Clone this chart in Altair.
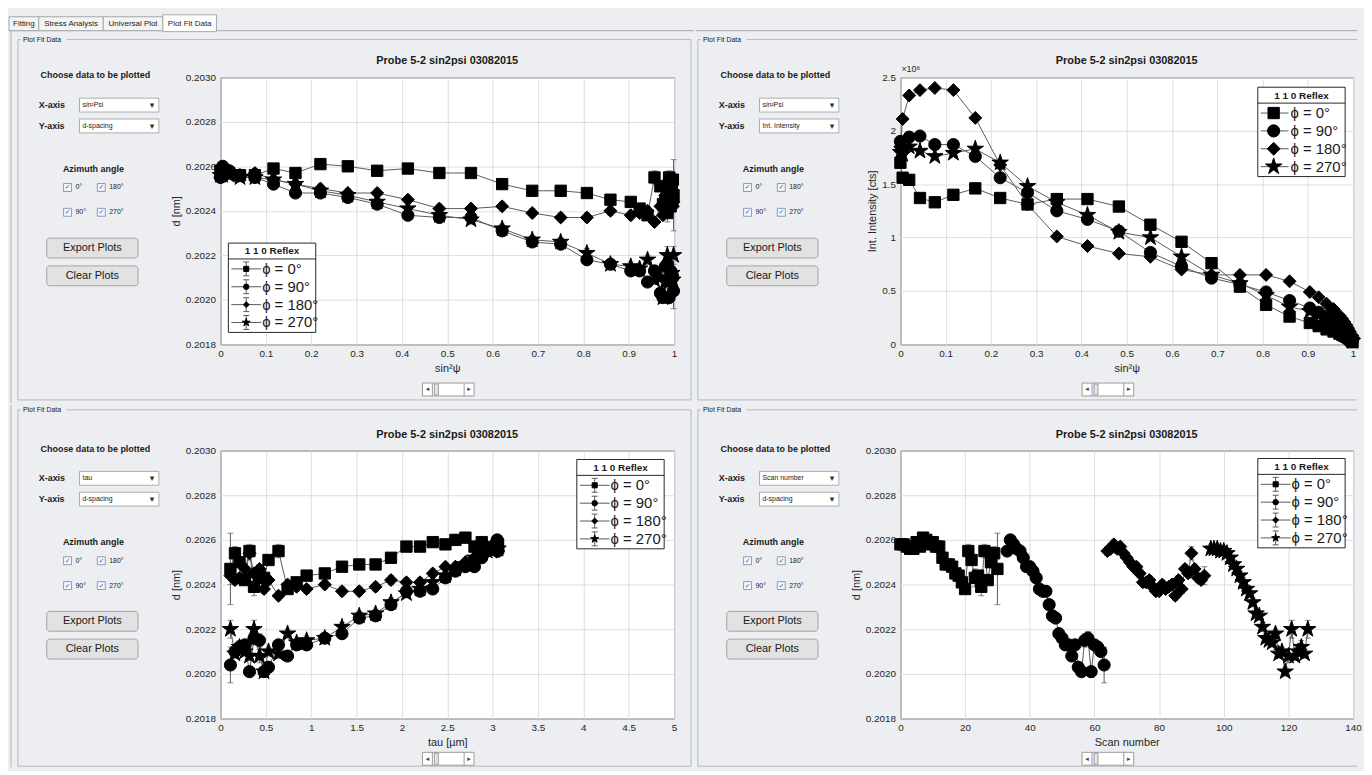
import altair as alt
import pandas as pd

FONT = "Liberation Sans"
SYMF = "DejaVu Sans"
BG = "#eceef1"
INK = "#1a1a1a"
LINE = "#5a5a5a"
FRAME = "#b5b8bd"
STAR = ("M0,-1L0.2245,-0.309L0.9511,-0.309L0.3633,0.118L0.5878,0.809L0,0.382"
        "L-0.5878,0.809L-0.3633,0.118L-0.9511,-0.309L-0.2245,-0.309Z")

# ---------------- data ----------------
series_labels = ["ϕ = 0°", "ϕ = 90°", "ϕ = 180°", "ϕ = 270°"]
series_shapes = ["square", "circle", "diamond", STAR]
legend_title = "1 1 0 Reflex"
panel_title = "Probe 5-2 sin2psi 03082015"
tab_names = ["Fitting", "Stress Analysis", "Universal Plot", "Plot Fit Data"]
frame_label = "Plot Fit Data"
azimuth_options = ["0°", "180°", "90°", "270°"]
button_labels = ["Export Plots", "Clear Plots"]

sin2psi = [0.0000, 0.0049, 0.0194, 0.0432, 0.0760, 0.1170, 0.1654, 0.2204, 0.2808, 0.3455,
           0.4132, 0.4826, 0.5523, 0.6210, 0.6873, 0.7500, 0.8078, 0.8597, 0.9045, 0.9240,
           0.9415, 0.9568, 0.9698, 0.9755, 0.9806, 0.9851, 0.9891, 0.9924, 0.9951, 0.9973, 0.9988]
tau_um = [3.06, 3.05, 3.03, 2.99, 2.94, 2.88, 2.80, 2.70, 2.59, 2.48, 2.34, 2.20, 2.05, 1.88,
          1.71, 1.53, 1.34, 1.15, 0.95, 0.84, 0.74, 0.64, 0.53, 0.48, 0.43, 0.37, 0.32, 0.27,
          0.21, 0.16, 0.11]
scan_start = [0, 33, 64, 96]

d_phi0 = [0.20258, 0.20258, 0.20257, 0.20256, 0.20256, 0.20259, 0.20257, 0.20261, 0.20260, 0.20258,
          0.20259, 0.20257, 0.20257, 0.20252, 0.20249, 0.20249, 0.20248, 0.20245, 0.20244, 0.20241,
          0.20238, 0.20255, 0.20251, 0.20243, 0.20244, 0.20239, 0.20255, 0.20242, 0.20250, 0.20254, 0.20247]
d_phi90 = [0.20255, 0.20260, 0.20258, 0.20256, 0.20255, 0.20252, 0.20248, 0.20248, 0.20246, 0.20243,
           0.20238, 0.20237, 0.20237, 0.20231, 0.20226, 0.20225, 0.20218, 0.20216, 0.20213, 0.20213,
           0.20208, 0.20213, 0.20203, 0.20201, 0.20215, 0.20216, 0.20201, 0.20213, 0.20212, 0.20210, 0.20204]
d_phi180 = [0.20255, 0.20256, 0.20258, 0.20256, 0.20257, 0.20254, 0.20252, 0.20250, 0.20248, 0.20248,
            0.20245, 0.20241, 0.20241, 0.20242, 0.20239, 0.20237, 0.20237, 0.20240, 0.20238, 0.20239,
            0.20240, 0.20235, 0.20242, 0.20238, 0.20247, 0.20245, 0.20254, 0.20247, 0.20243, 0.20242, 0.20244]
d_phi270 = [0.20256, 0.20256, 0.20256, 0.20255, 0.20255, 0.20254, 0.20252, 0.20249, 0.20247, 0.20244,
            0.20241, 0.20238, 0.20236, 0.20232, 0.20227, 0.20226, 0.20221, 0.20216, 0.20215, 0.20214,
            0.20218, 0.20209, 0.20210, 0.20201, 0.20208, 0.20220, 0.20208, 0.20210, 0.20212, 0.20209, 0.20220]

err_phi0 = [0.00002] * 21 + [0.00003, 0.00002, 0.00004, 0.00002, 0.00004, 0.00003, 0.00002, 0.00002, 0.00003, 0.00016]
err_phi90 = [0.00002] * 24 + [0.00003, 0.00003, 0.00002, 0.00002, 0.00002, 0.00002, 0.00008]
err_phi180 = [0.00002] * 26 + [0.00003, 0.00002, 0.00002, 0.00002, 0.00004]
err_phi270 = [0.00002] * 24 + [0.00003, 0.00004, 0.00002, 0.00002, 0.00003, 0.00002, 0.00004]

int_phi0 = [1.70, 1.56, 1.54, 1.37, 1.33, 1.40, 1.46, 1.37, 1.31, 1.36, 1.36, 1.29, 1.12, 0.96, 0.76,
            0.54, 0.37, 0.26, 0.20, 0.17, 0.14, 0.12, 0.10, 0.09, 0.08, 0.07, 0.06, 0.05, 0.04, 0.03, 0.02]
int_phi90 = [1.90, 1.81, 1.94, 1.95, 1.87, 1.87, 1.76, 1.56, 1.42, 1.25, 1.17, 1.06, 0.86, 0.73, 0.62,
             0.56, 0.49, 0.41, 0.34, 0.30, 0.26, 0.22, 0.18, 0.16, 0.14, 0.12, 0.10, 0.08, 0.07, 0.05, 0.04]
int_phi180 = [1.85, 2.11, 2.33, 2.38, 2.40, 2.38, 2.12, 1.68, 1.31, 1.01, 0.92, 0.85, 0.82, 0.70, 0.65,
              0.65, 0.65, 0.59, 0.49, 0.44, 0.38, 0.33, 0.27, 0.24, 0.21, 0.18, 0.15, 0.12, 0.09, 0.07, 0.05]
int_phi270 = [1.80, 1.78, 1.85, 1.81, 1.76, 1.79, 1.83, 1.70, 1.48, 1.33, 1.21, 1.05, 1.00, 0.82, 0.65,
              0.57, 0.46, 0.35, 0.31, 0.27, 0.23, 0.20, 0.17, 0.15, 0.13, 0.11, 0.09, 0.07, 0.06, 0.04, 0.03]

ticks_unit = [0, 0.1, 0.2, 0.3, 0.4, 0.5, 0.6, 0.7, 0.8, 0.9, 1.0]
ticks_d = [0.2018, 0.2020, 0.2022, 0.2024, 0.2026, 0.2028, 0.2030]
ticks_int = [0, 0.5, 1, 1.5, 2, 2.5]
ticks_tau = [0, 0.5, 1, 1.5, 2, 2.5, 3, 3.5, 4, 4.5, 5]
ticks_scan = [0, 20, 40, 60, 80, 100, 120, 140]

d_all = [d_phi0, d_phi90, d_phi180, d_phi270]
err_all = [err_phi0, err_phi90, err_phi180, err_phi270]
int_all = [int_phi0, int_phi90, int_phi180, int_phi270]
scan_all = [[s + i for i in range(len(d_all[k]))] for k, s in enumerate(scan_start)]


def make_df(xs, ys, errs=None):
    rows = []
    for k, lab in enumerate(series_labels):
        for i, (xv, yv) in enumerate(zip(xs[k], ys[k])):
            e = errs[k][i] if errs else 0.0
            rows.append({"series": lab, "s": k, "i": i, "x": xv, "y": yv, "lo": yv - e, "hi": yv + e})
    return pd.DataFrame(rows)


ONE = pd.DataFrame({"k": [0]})
PLOT_SIZES = [130, 150, 170, 300]
LEG_SMALL = [26, 30, 36, 70]


def vtext(s, x, y, size=9, bold=False, align="left", color=INK, font=FONT):
    return alt.Chart(ONE).mark_text(
        text=s, align=align, baseline="middle", fontSize=size,
        fontWeight="bold" if bold else "normal", color=color, font=font
    ).encode(x=alt.value(x), y=alt.value(y))


def vrect(x1, y1, x2, y2, fill, stroke=None, sw=1, radius=0, opacity=1):
    kw = dict(fill=fill, strokeWidth=sw, cornerRadius=radius, opacity=opacity)
    if stroke:
        kw["stroke"] = stroke
    return alt.Chart(ONE).mark_rect(**kw).encode(
        x=alt.value(x1), x2=alt.value(x2), y=alt.value(y1), y2=alt.value(y2))


def vline(x1, y1, x2, y2, color, sw=1):
    return alt.Chart(ONE).mark_rule(color=color, strokeWidth=sw).encode(
        x=alt.value(x1), x2=alt.value(x2), y=alt.value(y1), y2=alt.value(y2))


def vpoint(x, y, shape, size):
    return alt.Chart(ONE).mark_point(
        shape=shape, size=size, filled=True, fill="black", stroke="black",
        strokeWidth=1, opacity=1
    ).encode(x=alt.value(x), y=alt.value(y))


def legend_layers(x0, y0, big):
    out = [vrect(x0, y0, x0 + 88, y0 + 90, fill="white", stroke="#262626"),
           vline(x0, y0 + 16, x0 + 88, y0 + 16, "#262626"),
           vtext(legend_title, x0 + 44, y0 + 8.5, 10, bold=True, align="center")]
    for k, (lab, shp) in enumerate(zip(series_labels, series_shapes)):
        yy = y0 + 26 + 18 * k
        if big:
            out.append(vline(x0 + 3, yy, x0 + 31, yy, LINE))
            out.append(vpoint(x0 + 16, yy, shp, PLOT_SIZES[k]))
            out.append(vtext(lab, x0 + 33, yy, 15))
        else:
            out.append(vline(x0 + 3, yy, x0 + 33, yy, LINE))
            out.append(vline(x0 + 18, yy - 7, x0 + 18, yy + 7, LINE))
            out.append(vline(x0 + 15, yy - 7, x0 + 21, yy - 7, LINE))
            out.append(vline(x0 + 15, yy + 7, x0 + 21, yy + 7, LINE))
            out.append(vpoint(x0 + 18, yy, shp, LEG_SMALL[k]))
            out.append(vtext(lab, x0 + 34, yy, 15))
    return out


def deco_layers(W, H, row, col, xsel, ysel):
    T, B = (66, 59) if row == 0 else (46, 49)
    Lm, R = (213, 20) if col == 0 else (206, 4)
    out = [vrect(-Lm, -T, W + R, H + B, fill="#000000", opacity=0)]
    if row == 0:
        out.append(vline(-Lm, -47, W + R, -47, "#a6a8ab"))
        if col == 0:
            tx = [(-213, -183), (-183, -118), (-118, -58), (-58, -4)]
            for k, (name, (a, b)) in enumerate(zip(tab_names, tx)):
                if k == 3:
                    out.append(vrect(a, -63, b, -46, fill="white", stroke="#a6a8ab"))
                else:
                    out.append(vrect(a, -61, b, -47, fill="#f4f4f4", stroke="#a6a8ab"))
                out.append(vtext(name, (a + b) / 2, -54, 8, align="center"))
    if col == 0:
        out.append(vline(-211, -47 if row == 0 else -T, -211, H + B, "#b0b3b8"))
    ft = -38 if row == 0 else -41
    fb = H + 56 if row == 0 else H + 48
    fl = -204
    fr = W + 17 if col == 0 else W + R
    out.append(vline(fl, ft, fr, ft, FRAME))
    out.append(vline(fl, ft, fl, fb, FRAME))
    out.append(vline(fl, fb, fr, fb, FRAME))
    if col == 0:
        out.append(vline(fr, ft, fr, fb, FRAME))
    out.append(vrect(-201, ft - 5, -155, ft + 5, fill=BG))
    out.append(vtext(frame_label, -199, ft, 7))
    out.append(vtext("Choose data to be plotted", -126, -2, 9, bold=True, align="center"))
    out.append(vtext("X-axis", -183, 28, 9, bold=True))
    out.append(vtext("Y-axis", -183, 49, 9, bold=True))
    for (y1, y2, s) in [(21, 35, xsel), (42, 56, ysel)]:
        out.append(vrect(-142, y1, -62, y2, fill="white", stroke="#acacac"))
        out.append(vtext(s, -139, (y1 + y2) / 2, 7))
        out.append(vtext("▾", -69, (y1 + y2) / 2, 9, align="center", color="#333", font=SYMF))
    out.append(vtext("Azimuth angle", -128, 92, 9, bold=True, align="center"))
    cpos = [(-158, 111), (-124, 111), (-158, 136), (-124, 136)]
    for lab, (cx, cy) in zip(azimuth_options, cpos):
        out.append(vrect(cx, cy - 4, cx + 8, cy + 4, fill="#f2f5fa", stroke="#8d9bb3"))
        out.append(vtext("✓", cx + 4, cy, 7, align="center", color="#2b62b8", font=SYMF))
        out.append(vtext(lab, cx + 12, cy, 7))
    for lab, (y1, y2) in zip(button_labels, [(162, 182), (190, 210)]):
        out.append(vrect(-175, y1, -83, y2, fill="#e2e2e2", stroke="#a3a3a3", radius=3))
        out.append(vtext(lab, -129, (y1 + y2) / 2, 11, align="center"))
    wx = W / 2 - 25 if col == 0 else W / 2 - 45
    wy = H + 39 if row == 0 else H + 34
    out.append(vrect(wx, wy, wx + 52, wy + 13, fill="white", stroke="#9a9a9a"))
    out.append(vline(wx + 10, wy, wx + 10, wy + 13, "#9a9a9a"))
    out.append(vline(wx + 42, wy, wx + 42, wy + 13, "#9a9a9a"))
    out.append(vrect(wx + 12, wy + 1, wx + 16, wy + 12, fill="#e6e6e6", stroke="#9a9a9a"))
    out.append(vtext("◂", wx + 5, wy + 6.5, 7, align="center", color="#444", font=SYMF))
    out.append(vtext("▸", wx + 47, wy + 6.5, 7, align="center", color="#444", font=SYMF))
    out.append(vtext(panel_title, W / 2, -16, 11, bold=True, align="center"))
    return out


def panel(df, W, H, row, col, xdom, xvals, xfmt, xtitle, ydom, yvals, yfmt, ytitle,
          errorbars, legend_xy, legend_big, xsel, ysel, exponent=False):
    xaxis = alt.Axis(values=xvals, format=xfmt, title=xtitle, labelPadding=4, titlePadding=4)
    yaxis = alt.Axis(values=yvals, format=yfmt, title=ytitle, labelPadding=5, titlePadding=4)
    xs = alt.Scale(domain=xdom, nice=False, zero=False)
    ys = alt.Scale(domain=ydom, nice=False, zero=False)
    X = alt.X("x:Q", scale=xs, axis=xaxis)
    Y = alt.Y("y:Q", scale=ys, axis=yaxis)
    base = alt.Chart(df)
    layers = deco_layers(W, H, row, col, xsel, ysel)
    layers.append(base.mark_line(color=LINE, strokeWidth=1).encode(X, Y, detail="series:N", order="i:Q"))
    if errorbars:
        layers.append(base.mark_rule(color=LINE, strokeWidth=1).encode(
            X, alt.Y("lo:Q", scale=ys, axis=yaxis), y2="hi:Q"))
        layers.append(base.mark_tick(orient="horizontal", size=6, thickness=1, color=LINE).encode(
            X, alt.Y("lo:Q", scale=ys, axis=yaxis)))
        layers.append(base.mark_tick(orient="horizontal", size=6, thickness=1, color=LINE).encode(
            X, alt.Y("hi:Q", scale=ys, axis=yaxis)))
    for k in range(len(series_labels)):
        layers.append(base.transform_filter(alt.datum.s == k).mark_point(
            shape=series_shapes[k], size=PLOT_SIZES[k], filled=True, fill="black",
            stroke="black", strokeWidth=1, opacity=1).encode(X, Y))
    if exponent:
        layers.append(vtext("×10⁶", 1, -8, 9, color="#262626"))
    layers += legend_layers(legend_xy[0], legend_xy[1], legend_big)
    return alt.layer(*layers).properties(width=W, height=H)


df1 = make_df([sin2psi] * 4, d_all, err_all)
df2 = make_df([sin2psi] * 4, int_all)
df3 = make_df([tau_um] * 4, d_all, err_all)
df4 = make_df(scan_all, d_all, err_all)

p1 = panel(df1, 457, 269, 0, 0, [0, 1], ticks_unit, ".1~f", "sin²ψ", [0.2018, 0.2030], ticks_d, ".4f",
           "d [nm]", True, (8, 167), False, "sin²Psi", "d-spacing")
p2 = panel(df2, 456, 269, 0, 1, [0, 1], ticks_unit, ".1~f", "sin²ψ", [0, 2.5], ticks_int, ".1~f",
           "Int. Intensity [cts]", False, (360, 10), True, "sin²Psi", "Int. Intensity", exponent=True)
p3 = panel(df3, 457, 270, 1, 0, [0, 5], ticks_tau, ".1~f", "tau [µm]", [0.2018, 0.2030], ticks_d, ".4f",
           "d [nm]", True, (359, 9), False, "tau", "d-spacing")
p4 = panel(df4, 456, 270, 1, 1, [0, 140], ticks_scan, "d", "Scan number", [0.2018, 0.2030], ticks_d, ".4f",
           "d [nm]", True, (360, 8), False, "Scan number", "d-spacing")

chart = alt.vconcat(
    alt.hconcat(p1, p2, spacing=0),
    alt.hconcat(p3, p4, spacing=0),
    spacing=0,
).properties(
    padding=0, background=BG
).configure_view(
    fill="white", stroke="#3a3a3a", strokeWidth=1
).configure_axis(
    labelFont=FONT, labelFontSize=10, labelColor="#262626",
    titleFont=FONT, titleFontSize=11, titleFontWeight="normal", titleColor="#262626",
    gridColor="#dedede", gridWidth=1, domain=False, ticks=False,
    labelFlush=False, labelOverlap=False,
)

chart.save("out.html", embed_options={"renderer": "svg", "actions": False})
